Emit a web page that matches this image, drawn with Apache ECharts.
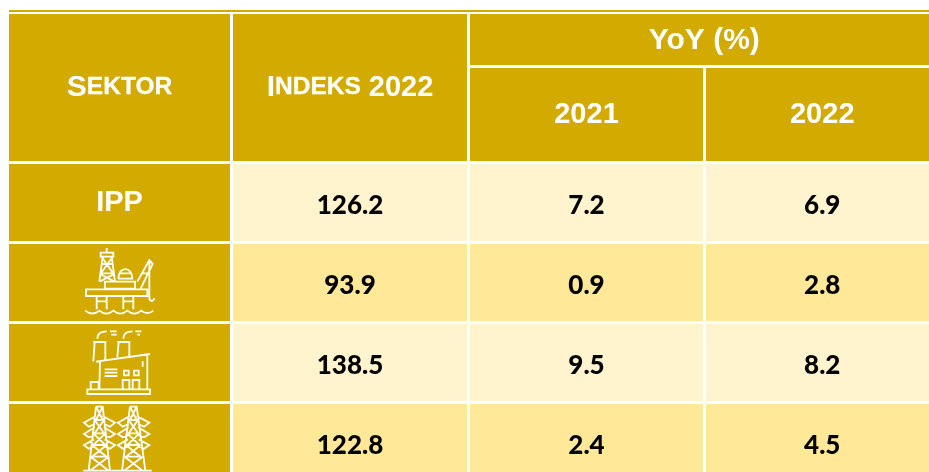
<!DOCTYPE html>
<html>
<head>
<meta charset="utf-8">
<style>
html,body{margin:0;padding:0;background:#fff}
#main{width:929px;height:472px}
</style>
<script src="https://cdn.jsdelivr.net/npm/echarts@6/dist/echarts.min.js"></script>
</head>
<body>
<div id="main"></div>
<script>
"use strict";
/*data*/
var headSektor = ["S", "EKTOR"];
var headIndeks = ["I", "NDEKS", " 2022"];
var headYoy = "YoY (%)";
var years = ["2021", "2022"];
var sektorLabel = "IPP";
var sektorIcons = ["rig", "factory", "tower"];
var indeks2022 = ["126.2", "93.9", "138.5", "122.8"];
var yoy2021 = ["7.2", "0.9", "9.5", "2.4"];
var yoy2022 = ["6.9", "2.8", "8.2", "4.5"];

/*table layout*/
var colEdges = [7.5, 231.5, 468.5, 704.5, 940];
var rowEdges = [12.5, 66.5, 162.5, 242.5, 322.5, 402.5, 482.5];
var gold = "#d2aa00";
var rowFill = ["#fff4cd", "#ffe999"];
var headFont = "Liberation Sans";
var bodyFont = "Lato";

/*icons, drawn on a 330x255 box, scale 1/3*/
var iconPaths = {
    rig: "M140 24V38M122 38H160V50H122ZM128 50L118 125M155 50L165 125M125 72H158M122 100H161M126 52L158 98M157 52L124 98M120 102L162 124M163 102L120 124" +
        "M135 125H225V146H135ZM78 148H262V168H78ZM175 116C175 78 217 78 217 116H175M178 100H214" +
        "M232 125L268 60L278 72L242 146M245 100L270 100M268 60V172C268 186 282 186 282 174" +
        "M110 170V208M140 170V208M110 184H140M190 170V208M220 170V208M190 184H220" +
        "M76 212C90 224 102 224 118 212C132 224 146 224 160 212C174 224 188 224 202 212C216 224 230 224 244 212C256 222 268 222 280 212",
    factory: "M112 56C112 38 124 34 140 34M150 34H170M190 56C190 38 202 34 218 34M226 34H244M232 44H240M154 44H170" +
        "M100 66H136V120M104 66L100 124M172 66H208V108M176 66L172 112" +
        "M108 125L270 102M120 124L118 208M262 104V208M248 124V140" +
        "M134 148H172M134 158H172M134 168H172" +
        "M192 152H206V166H192ZM222 152H236V166H222ZM188 180H208V208H188ZM218 180H238V208H218Z" +
        "M92 208V186H116V208M82 208H270V222H82Z",
    tower: "M108 20H128L150 212M108 20L86 212M108 60H128M104 100H132M100 135H136M96 170H140M108 20L128 60M128 20L108 60M104 60L132 100M132 60L104 100M100 100L136 135M136 100L100 135M96 135L140 170M140 135L96 170M92 170L146 212M146 170L90 212" +
        "M108 48L72 68L86 80L104 72M128 48L165 68L150 80L132 72M104 82L72 102L86 112L102 106M132 82L165 102L150 112L134 106M102 118L72 135L86 146L100 140M134 118L165 135L150 146L136 140" +
        "M210 20H230L256 212M210 20L186 212M210 60H230M206 100H234M202 135H238M198 170H242M210 20L230 60M230 20L210 60M206 60L234 100M234 60L206 100M202 100L238 135M238 100L202 135M198 135L242 170M242 135L198 170M194 170L248 212M248 170L192 212" +
        "M210 48L174 68L188 80L206 72M230 48L268 68L252 80L234 72M206 82L174 102L188 112L204 106M234 82L268 102L252 112L236 106M204 118L174 135L188 146L202 140M236 118L268 135L252 146L238 140" +
        "M70 212H275"
};

/*one record per cell: col from, col to, row from, row to, fill, text kind, text, icon*/
var cells = [
    [0, 1, 0, 2, gold, "sektor", "{b|" + headSektor[0] + "}{s|" + headSektor[1] + "}"],
    [1, 2, 0, 2, gold, "sektor", "{b|" + headIndeks[0] + "}{s|" + headIndeks[1] + "}{n|" + headIndeks[2] + "}"],
    [2, 4, 0, 1, gold, "yoy", headYoy],
    [2, 3, 1, 2, gold, "head", years[0]],
    [3, 4, 1, 2, gold, "head", years[1]]
];
indeks2022.forEach(function (v, i) {
    var fill = rowFill[i % 2];
    var r = i + 2;
    if (i === 0) {
        cells.push([0, 1, r, r + 1, gold, "head", sektorLabel]);
    } else {
        cells.push([0, 1, r, r + 1, gold, "icon", "", sektorIcons[i - 1]]);
    }
    cells.push([1, 2, r, r + 1, fill, "body", v]);
    cells.push([2, 3, r, r + 1, fill, "body", yoy2021[i]]);
    cells.push([3, 4, r, r + 1, fill, "body", yoy2022[i]]);
});

var textOffset = {sektor: 0, head: 0, yoy: 1, body: 3};
var textSize = {sektor: 29, head: 29, yoy: 30, body: 26};

function renderCell(params, api) {
    var c = cells[params.dataIndex];
    var p0 = api.coord([colEdges[c[0]] + 1.5, rowEdges[c[2]] + 1.5]);
    var p1 = api.coord([colEdges[c[1]] - 1.5, rowEdges[c[3]] - 1.5]);
    var cx = (p0[0] + p1[0]) / 2;
    var cy = (p0[1] + p1[1]) / 2;
    var children = [{
        type: "rect",
        shape: {x: p0[0], y: p0[1], width: p1[0] - p0[0], height: p1[1] - p0[1]},
        style: {fill: c[4]}
    }];
    if (c[5] === "icon") {
        children.push({
            type: "path",
            x: cx - 59.5,
            y: p0[1] - 4,
            scaleX: 1 / 3,
            scaleY: 1 / 3,
            shape: {pathData: iconPaths[c[7]]},
            style: {fill: "none", stroke: "#fff", lineWidth: 5.5}
        });
    } else {
        var isBody = c[5] === "body";
        var st = {
            text: c[6],
            x: cx,
            y: cy + textOffset[c[5]],
            align: "center",
            verticalAlign: "middle",
            fill: isBody ? "#000" : "#fff",
            fontFamily: isBody ? bodyFont : headFont,
            fontWeight: isBody ? 900 : "bold",
            fontSize: textSize[c[5]]
        };
        if (c[5] === "sektor") {
            st.rich = {
                b: {fontFamily: headFont, fontWeight: "bold", fontSize: 30, fill: "#fff"},
                s: {fontFamily: headFont, fontWeight: "bold", fontSize: 24.5, fill: "#fff", stroke: "#fff", lineWidth: 0.3},
                n: {fontFamily: headFont, fontWeight: "bold", fontSize: 29, fill: "#fff"}
            };
        }
        children.push({type: "text", style: st});
    }
    return {type: "group", children: children};
}

function renderRule(params, api) {
    var p0 = api.coord([colEdges[0] + 1.5, 10]);
    var p1 = api.coord([929, 12]);
    return {
        type: "rect",
        shape: {x: p0[0], y: p0[1], width: p1[0] - p0[0], height: p1[1] - p0[1]},
        style: {fill: gold}
    };
}

var tableChart = echarts.init(document.getElementById("main"), null, {renderer: "canvas"});
tableChart.setOption({
    animation: false,
    backgroundColor: "#fff",
    grid: {left: 0, right: 0, top: 0, bottom: 0},
    xAxis: {type: "value", min: 0, max: 929, show: false},
    yAxis: {type: "value", min: 0, max: 472, inverse: true, show: false},
    series: [
        {type: "custom", renderItem: renderRule, data: [0], silent: true},
        {type: "custom", renderItem: renderCell, data: cells.map(function (c, i) { return i; }), silent: true}
    ]
});
</script>
</body>
</html>
